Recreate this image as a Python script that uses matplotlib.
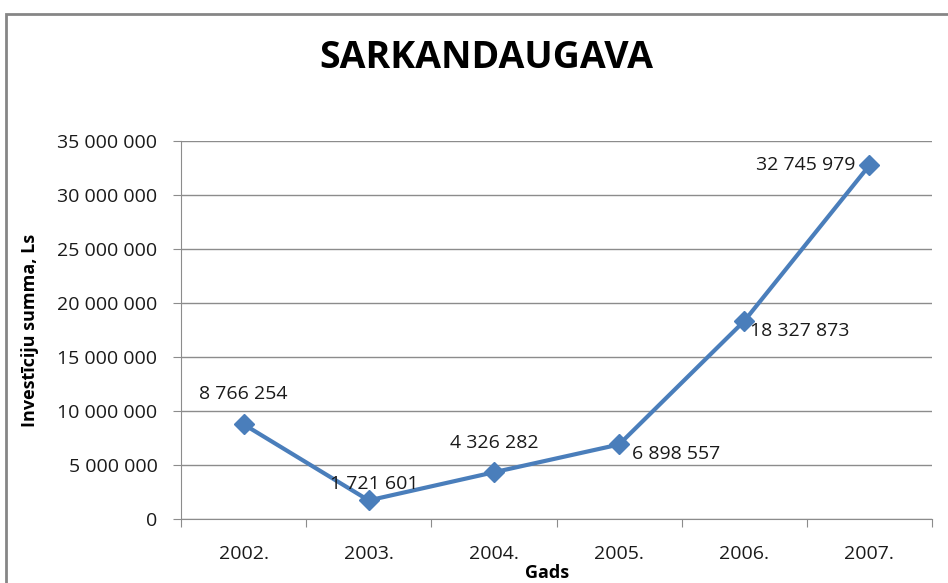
import matplotlib
matplotlib.use("Agg")
import matplotlib.pyplot as plt
from matplotlib.patches import Rectangle
from matplotlib.ticker import FuncFormatter, FixedLocator

years = ["2002.", "2003.", "2004.", "2005.", "2006.", "2007."]
values = [8766254, 1721601, 4326282, 6898557, 18327873, 32745979]
yticks = [0, 5000000, 10000000, 15000000, 20000000, 25000000, 30000000, 35000000]

# label offsets in points (dx, dy) and alignments
label_pos = [(0, 22, "center"), (4, 12, "center"), (0, 21, "center"),
             (9, -7, "left"), (4, -7, "left"), (-10, 0, "right")]

def fmt(v):
    return f"{int(v):,}".replace(",", " ")

plt.rcParams["font.family"] = ["Open Sans", "DejaVu Sans"]

fig = plt.figure(figsize=(9.48, 5.83), dpi=100)
fig.patch.set_facecolor("white")
fig.patches.append(Rectangle((6 / 948, -0.1), 1.2, 1 - 14 / 583 + 0.1, transform=fig.transFigure,
                             fill=False, edgecolor="#868686", linewidth=2, zorder=0))

ax = fig.add_axes([181 / 948, 1 - 519 / 583, (932 - 181) / 948, (519 - 141) / 583])
x = list(range(len(years)))
ax.plot(x, values, color="#4A7EBB", linewidth=3, marker="D", markersize=10,
        markerfacecolor="#4A7EBB", markeredgecolor="#4A7EBB", zorder=3, solid_joinstyle="round")

ax.set_xlim(-0.5, len(years) - 0.5)
ax.set_ylim(0, 35000000)
ax.set_yticks(yticks)
ax.yaxis.set_major_formatter(FuncFormatter(lambda v, p: fmt(v)))
ax.grid(axis="y", color="#8c8c8c", linewidth=1)
ax.set_axisbelow(True)

ax.xaxis.set_major_locator(FixedLocator([i - 0.5 for i in range(len(years) + 1)]))
ax.xaxis.set_major_formatter(FuncFormatter(lambda v, p: ""))
ax.xaxis.set_minor_locator(FixedLocator(x))
ax.set_xticklabels(years, minor=True)
ax.tick_params(axis="x", which="major", length=6, color="#8c8c8c", direction="out")
ax.tick_params(axis="x", which="minor", length=0, pad=19, labelsize=14, labelcolor="#1a1a1a")
ax.tick_params(axis="y", length=6, color="#8c8c8c", pad=11, labelsize=14, labelcolor="#1a1a1a")

for s in ["top", "right"]:
    ax.spines[s].set_visible(False)
for s in ["left", "bottom"]:
    ax.spines[s].set_color("#8c8c8c")

for xi, v, (dx, dy, ha) in zip(x, values, label_pos):
    ax.annotate(fmt(v), (xi, v), xytext=(dx, dy), textcoords="offset points",
                ha=ha, va="center", fontsize=14, color="#1a1a1a", zorder=4)

fig.text(486 / 948, 1 - 58 / 583, "SARKANDAUGAVA", ha="center", va="center",
         fontsize=27, fontweight="bold", color="black")
fig.text(30 / 948, 1 - 330 / 583, "Investīciju summa, Ls", rotation=90, ha="center",
         va="center", fontsize=13, fontweight="bold", color="black")
fig.text(547 / 948, 1 - 573 / 583, "Gads", ha="center", va="center", fontsize=13,
         fontweight="bold", color="black")

fig.savefig("out.png", dpi=100)
